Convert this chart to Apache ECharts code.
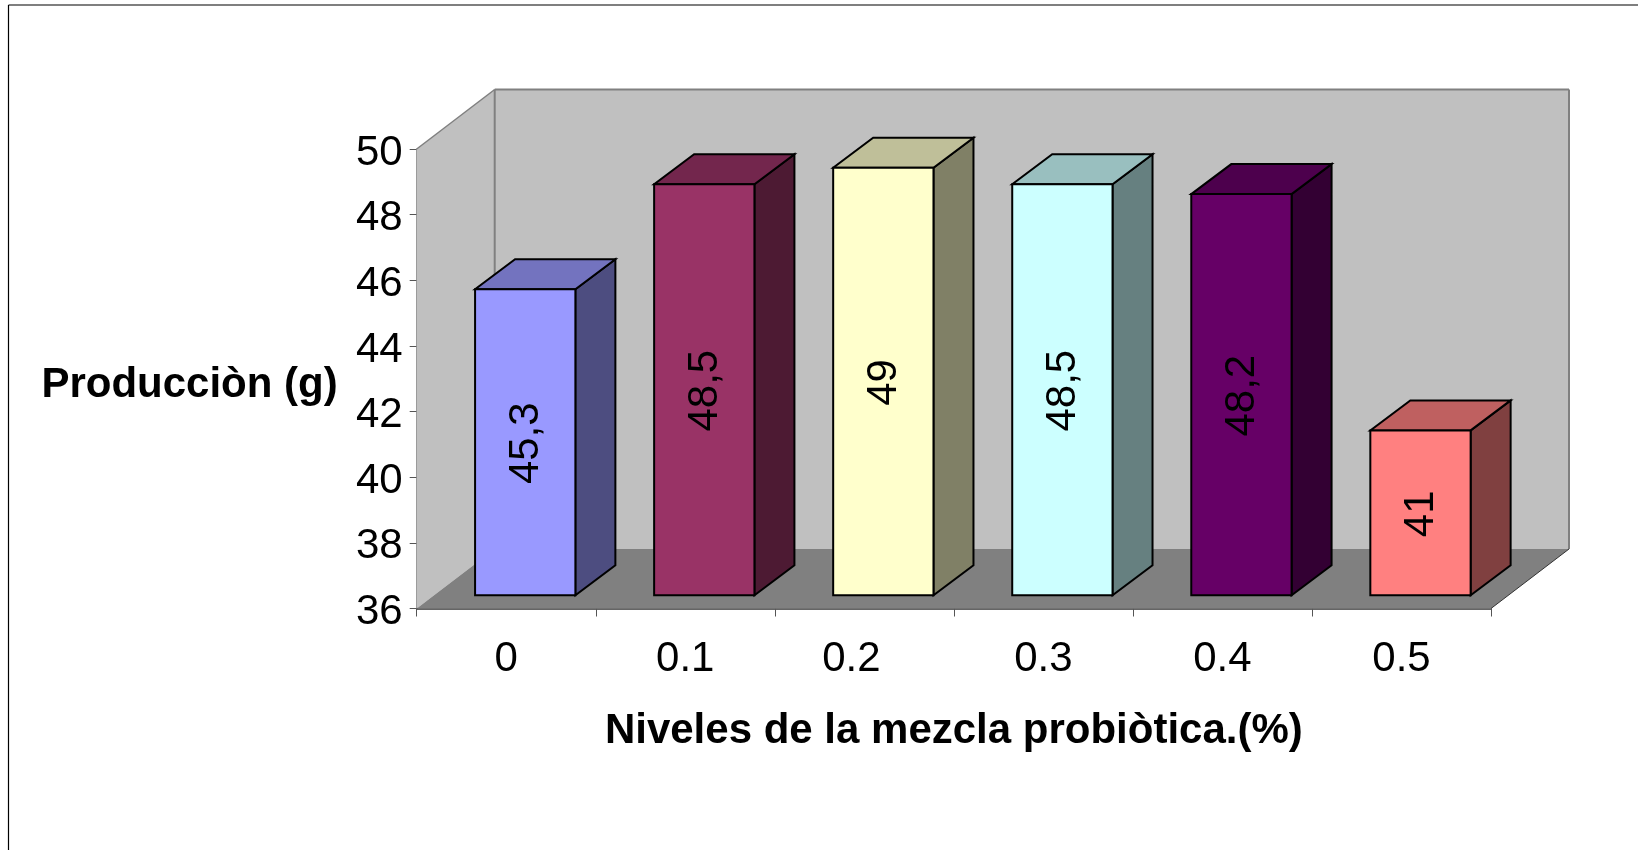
<!DOCTYPE html>
<html>
<head>
<meta charset="utf-8">
<style>html,body{margin:0;padding:0;background:#fff}#c{width:1638px;height:850px}</style>
<script src="https://cdn.jsdelivr.net/npm/echarts@6/dist/echarts.min.js"></script>
</head>
<body>
<div id="c"></div>
<script>
const categories = ['0', '0.1', '0.2', '0.3', '0.4', '0.5'];
const values = [45.3, 48.5, 49, 48.5, 48.2, 41];
const valueLabels = ['45,3', '48,5', '49', '48,5', '48,2', '41'];
const barColors = ['#9999FF', '#993366', '#FFFFCC', '#CCFFFF', '#660066', '#FF8080'];
const yTicks = { min: 36, max: 50, interval: 2 };
const xTitle = 'Niveles de la mezcla probiòtica.(%)';
const yTitle = 'Producciòn (g)';

const FONT = '"Liberation Sans", Arial, sans-serif';
const WALL_DX = 78, WALL_DY = -59.5;   // depth of the 3D box
const BAR_SHIFT_X = 19, BAR_TOP_SHIFT_Y = -14, BAR_BASE_SHIFT_Y = -13.3; // bar front plane inside the box
const BAR_DX = 40, BAR_DY = -30;       // depth of a bar
const BAR_W = 100.3;

function shade(hex, f) {
  const n = parseInt(hex.slice(1), 16);
  const r = Math.round((n >> 16 & 255) * f), g = Math.round((n >> 8 & 255) * f), b = Math.round((n & 255) * f);
  return `rgb(${r},${g},${b})`;
}
function poly(points, fill, stroke, lw) {
  return { type: 'polygon', shape: { points }, style: { fill, stroke: stroke || 'none', lineWidth: lw || 0, lineJoin: 'miter' } };
}
function line(x1, y1, x2, y2, stroke, lw) {
  return { type: 'line', shape: { x1, y1, x2, y2 }, style: { stroke, lineWidth: lw } };
}

function renderWalls(params) {
  const r = params.coordSys;
  const L = r.x, R = r.x + r.width, T = r.y, B = r.y + r.height;
  const dx = WALL_DX, dy = WALL_DY;
  return { type: 'group', children: [
    poly([[L + dx, T + dy], [R + dx, T + dy], [R + dx, B + dy], [L + dx, B + dy]], '#C0C0C0'),
    poly([[L, T], [L + dx, T + dy], [L + dx, B + dy], [L, B]], '#C0C0C0'),
    poly([[L, B], [R, B], [R + dx, B + dy], [L + dx, B + dy]], '#808080'),
    line(L, T, L + dx, T + dy, '#808080', 1.5),
    line(L + dx, T + dy, R + dx, T + dy, '#808080', 2),
    line(L + dx, T + dy, L + dx, B + dy, '#808080', 2),
    line(R + dx, T + dy, R + dx, B + dy, '#808080', 2),
    line(R, B, R + dx, B + dy, '#333333', 1)
  ]};
}

function renderBar(params, api) {
  const i = api.value(0), v = api.value(1);
  const top = api.coord([i, v]), base = api.coord([i, yTicks.min]);
  const x0 = top[0] - BAR_W / 2 + BAR_SHIFT_X, x1 = x0 + BAR_W;
  const yT = top[1] + BAR_TOP_SHIFT_Y, yB = base[1] + BAR_BASE_SHIFT_Y;
  const c = barColors[i];
  const s = '#000', lw = 2;
  return { type: 'group', children: [
    poly([[x1, yT], [x1 + BAR_DX, yT + BAR_DY], [x1 + BAR_DX, yB + BAR_DY], [x1, yB]], shade(c, 0.5), s, lw),
    poly([[x0, yT], [x1, yT], [x1 + BAR_DX, yT + BAR_DY], [x0 + BAR_DX, yT + BAR_DY]], shade(c, 0.75), s, lw),
    poly([[x0, yT], [x1, yT], [x1, yB], [x0, yB]], c, s, lw),
    { type: 'text', x: (x0 + x1) / 2 + 1, y: (yT + yB) / 2 + 1, rotation: Math.PI / 2,
      style: { text: valueLabels[i], font: '42px ' + FONT, fill: '#000', align: 'center', verticalAlign: 'middle' } }
  ]};
}

const chart = echarts.init(document.getElementById('c'), null, { renderer: 'canvas' });
chart.setOption({
  animation: false,
  backgroundColor: '#fff',
  grid: { left: 416.7, right: 147, top: 149, bottom: 241.5, containLabel: false, outerBoundsMode: 'none' },
  xAxis: {
    type: 'category', data: categories, name: xTitle, nameLocation: 'middle', nameGap: 102,
    nameTextStyle: { fontFamily: 'Liberation Sans', fontWeight: 'bold', fontSize: 42, color: '#000' },
    axisLine: { show: true, lineStyle: { color: '#333', width: 1.5 } },
    axisTick: { show: true, alignWithLabel: false, length: 8, lineStyle: { color: '#555', width: 1 } },
    axisLabel: {
      color: '#000', fontFamily: 'Liberation Sans', fontSize: 42, margin: 30, interval: 0,
      formatter: (v, i) => i === 2 ? '{s|' + v + '}' : v,
      rich: { s: { fontFamily: 'Liberation Sans', fontSize: 42, color: '#000', padding: [0, 26, 0, 0] } }
    }
  },
  yAxis: {
    type: 'value', min: yTicks.min, max: yTicks.max, interval: yTicks.interval,
    name: '{t|' + yTitle + '}', nameLocation: 'middle', nameGap: 79, nameRotate: 0,
    nameTextStyle: { color: '#000', rich: { t: { fontFamily: 'Liberation Sans', fontWeight: 'bold', fontSize: 42, color: '#000', padding: [14, 0, 0, 0] } } },
    splitLine: { show: false },
    axisLine: { show: true, lineStyle: { color: '#666', width: 1.5 } },
    axisTick: { show: true, length: 7, lineStyle: { color: '#555', width: 1 } },
    axisLabel: { color: '#000', margin: 14,
      formatter: v => '{t|' + v + '}',
      rich: { t: { fontFamily: 'Liberation Sans', fontSize: 42, color: '#000', padding: [8, 0, 0, 0] } } }
  },
  series: [
    { type: 'custom', coordinateSystem: 'cartesian2d', silent: true, z: 1, renderItem: renderWalls, data: [[0, yTicks.min]], clip: false },
    { type: 'custom', coordinateSystem: 'cartesian2d', silent: true, z: 3, renderItem: renderBar,
      encode: { x: 0, y: 1 }, clip: false,
      data: values.map((v, i) => [i, v]) }
  ],
  graphic: [
    { type: 'line', z: 10, shape: { x1: 8.5, y1: 5, x2: 1638, y2: 5 }, style: { stroke: '#000', lineWidth: 1.2 } },
    { type: 'line', z: 10, shape: { x1: 8.5, y1: 5, x2: 8.5, y2: 850 }, style: { stroke: '#000', lineWidth: 1.2 } }
  ]
});
</script>
</body>
</html>
